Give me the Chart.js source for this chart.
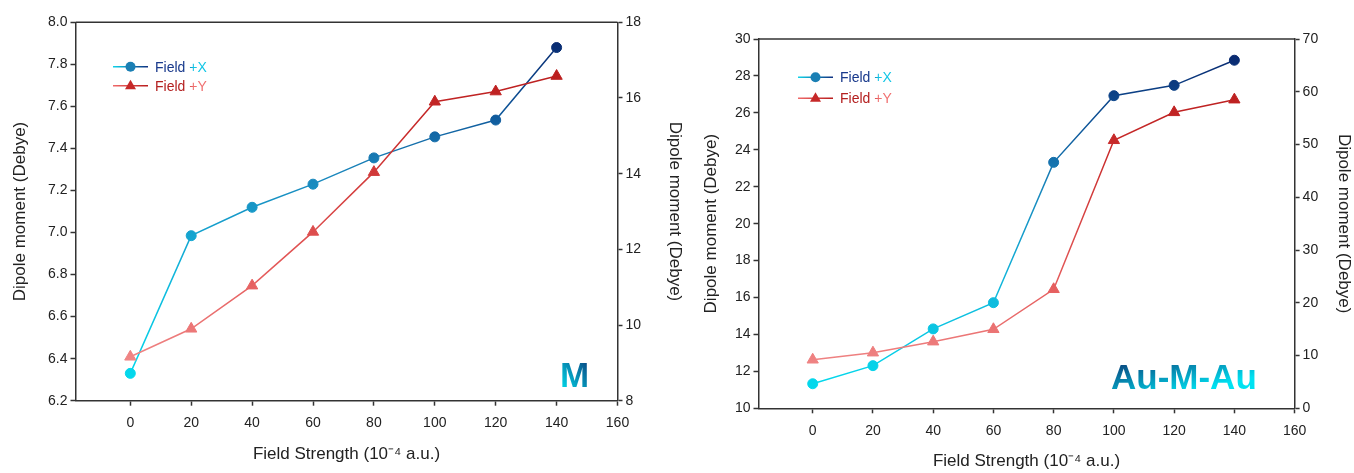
<!DOCTYPE html>
<html>
<head>
<meta charset="utf-8">
<script src="https://cdn.jsdelivr.net/npm/chart.js@4.4.1/dist/chart.umd.min.js"></script>
<style>
  body { margin: 0; background: #fff; }
  #wrap { position: relative; width: 1354px; height: 473px; overflow: hidden; }
  canvas { position: absolute; top: 0; }
  .tag {
    position: absolute; font-family: "Liberation Sans", Arial, sans-serif; font-weight: bold;
    font-size: 35px; line-height: 1; white-space: nowrap;
    -webkit-background-clip: text; background-clip: text; color: transparent;
  }
</style>
</head>
<body>
<div id="wrap">
  <canvas id="chart-m" width="690" height="473" style="left:0"></canvas>
  <canvas id="chart-au" width="664" height="473" style="left:690px"></canvas>
  <div class="tag" style="left:560px; top:357px; background-image: linear-gradient(to top right, #00e6f2, #0a3a7a);">M</div>
  <div class="tag" style="left:1111px; top:359px; background-image: linear-gradient(to bottom right, #0a4880 10%, #00e2f2 75%);">Au-M-Au</div>
</div>
<script>
// field strength in 10^-4 a.u.
const fieldStrength = [0, 20, 40, 60, 80, 100, 120, 140];

// M: +X on left axis, +Y on right axis
const mFieldX = [6.33, 6.985, 7.12, 7.23, 7.355, 7.455, 7.535, 7.88];
const mFieldY = [9.16, 9.90, 11.04, 12.46, 14.04, 15.90, 16.17, 16.58];

// Au-M-Au
const auFieldX = [11.33, 12.31, 14.30, 15.72, 23.32, 26.93, 27.49, 28.85];
const auFieldY = [9.2, 10.54, 12.63, 14.98, 22.56, 50.8, 56.1, 58.5];

const xTicks = [0, 20, 40, 60, 80, 100, 120, 140, 160];
const mLeftTicks = [6.2, 6.4, 6.6, 6.8, 7.0, 7.2, 7.4, 7.6, 7.8, 8.0];
const mRightTicks = [8, 10, 12, 14, 16, 18];
const auLeftTicks = [10, 12, 14, 16, 18, 20, 22, 24, 26, 28, 30];
const auRightTicks = [0, 10, 20, 30, 40, 50, 60, 70];

const FONT = '"Liberation Sans", Arial, sans-serif';
const blueStops = [[0, '#00e0f0'], [0.35, '#12b4da'], [0.6, '#1a86bc'], [0.78, '#0e5296'], [1, '#081f66']];
const redStops = [[0, '#f59a9a'], [0.35, '#e45a5a'], [0.7, '#c92c2c'], [1, '#b01414']];

function vGrad(stops) {
  return (ctx) => {
    const area = ctx.chart.chartArea;
    if (!area) return stops[0][1];
    const g = ctx.chart.ctx.createLinearGradient(0, area.bottom, 0, area.top);
    stops.forEach(s => g.addColorStop(s[0], s[1]));
    return g;
  };
}

function series(label, values, axis, stops, style, order) {
  return {
    label: label,
    data: fieldStrength.map((x, i) => ({ x: x, y: values[i] })),
    yAxisID: axis,
    borderColor: vGrad(stops),
    backgroundColor: vGrad(stops),
    pointBackgroundColor: vGrad(stops),
    pointBorderColor: vGrad(stops),
    borderWidth: 1.5,
    pointStyle: style,
    pointRadius: style === 'circle' ? 5 : 6.5,
    pointBorderWidth: 1,
    tension: 0,
    order: order,
  };
}

function yAxis(pos, min, max, ticks, width, pad, fmt) {
  return {
    type: 'linear', position: pos, min: min, max: max,
    afterFit: s => { s.width = width; },
    afterBuildTicks: s => { s.ticks = ticks.map(v => ({ value: v })); },
    grid: { drawOnChartArea: false, drawTicks: true, tickLength: 5, tickWidth: 1.5, tickColor: '#333' },
    border: { display: true, color: '#333', width: 1.5 },
    ticks: { color: '#222', font: { family: FONT, size: 14 }, padding: 3, callback: fmt },
    title: { display: true, text: 'Dipole moment (Debye)', color: '#222', font: { family: FONT, size: 17 }, padding: { top: pad, bottom: 0 } },
  };
}

function xAxis(height, pad) {
  return {
    type: 'linear', min: -18, max: 160,
    afterFit: s => { s.height = height; },
    afterBuildTicks: s => { s.ticks = xTicks.map(v => ({ value: v })); },
    grid: { drawOnChartArea: false, drawTicks: true, tickLength: 5, tickWidth: 1.5, tickColor: '#333' },
    border: { display: true, color: '#333', width: 1.5 },
    ticks: { color: '#222', font: { family: FONT, size: 14 }, padding: 9, maxRotation: 0 },
    title: { display: true, text: 'Field Strength (10\u207B\u2074 a.u.)', color: '#222', font: { family: FONT, size: 17 }, padding: { top: 0, bottom: pad } },
  };
}

// top frame line + in-plot legend
const decor = {
  id: 'decor',
  afterDraw(chart, args, opts) {
    const ctx = chart.ctx;
    const a = chart.chartArea;
    ctx.save();
    ctx.strokeStyle = '#333';
    ctx.lineWidth = 1.5;
    ctx.beginPath();
    ctx.moveTo(a.left, a.top);
    ctx.lineTo(a.right, a.top);
    ctx.stroke();

    const x1 = opts.x, x2 = opts.x + 35, mid = opts.x + 17.5;
    const rows = [
      { y: opts.y1, c1: '#10d4ea', c2: '#102f80', mk: '#1a7fb4', t1: '#1a3a8c', t2: '#12c6e6', text: 'Field +X', tri: false },
      { y: opts.y2, c1: '#f06a6a', c2: '#b81c1c', mk: '#c62828', t1: '#b42020', t2: '#f07070', text: 'Field +Y', tri: true },
    ];
    rows.forEach(r => {
      const lg = ctx.createLinearGradient(x1, 0, x2, 0);
      lg.addColorStop(0, r.c1);
      lg.addColorStop(1, r.c2);
      ctx.strokeStyle = lg;
      ctx.lineWidth = 1.5;
      ctx.beginPath();
      ctx.moveTo(x1, r.y);
      ctx.lineTo(x2, r.y);
      ctx.stroke();
      ctx.fillStyle = r.mk;
      ctx.beginPath();
      if (r.tri) {
        ctx.moveTo(mid, r.y - 6);
        ctx.lineTo(mid + 5.5, r.y + 3.5);
        ctx.lineTo(mid - 5.5, r.y + 3.5);
        ctx.closePath();
      } else {
        ctx.arc(mid, r.y, 5, 0, Math.PI * 2);
      }
      ctx.fill();
      ctx.font = '14px ' + FONT;
      ctx.textBaseline = 'middle';
      const tx = x2 + 7;
      const w = ctx.measureText(r.text).width;
      const tg = ctx.createLinearGradient(tx, 0, tx + w, 0);
      tg.addColorStop(0, r.t1);
      tg.addColorStop(0.55, r.t1);
      tg.addColorStop(0.75, r.t2);
      tg.addColorStop(1, r.t2);
      ctx.fillStyle = tg;
      ctx.fillText(r.text, tx, r.y + 1);
    });
    ctx.restore();
  }
};

function makeChart(id, dsX, dsY, scales, padTop, legend) {
  return new Chart(document.getElementById(id).getContext('2d'), {
    type: 'line',
    data: {
      datasets: [
        series('Field +X', dsX, 'y', blueStops, 'circle', 1),
        series('Field +Y', dsY, 'y2', redStops, 'triangle', 0),
      ]
    },
    options: {
      responsive: false,
      animation: false,
      devicePixelRatio: 1,
      layout: { padding: { left: 0, right: 0, top: padTop, bottom: 0 } },
      plugins: { legend: { display: false }, tooltip: { enabled: false }, decor: legend },
      scales: scales,
    },
    plugins: [decor],
  });
}

makeChart('chart-m', mFieldX, mFieldY, {
  x: xAxis(72.3, 8),
  y: yAxis('left', 6.2, 8.0, mLeftTicks, 75.5, 10, v => v.toFixed(1)),
  y2: yAxis('right', 8, 18, mRightTicks, 72.5, 5, v => String(v)),
}, 22.3, { x: 113, y1: 66.7, y2: 85.7 });

makeChart('chart-au', auFieldX, auFieldY, {
  x: xAxis(64.7, 1),
  y: yAxis('left', 10, 30, auLeftTicks, 68.5, 11, v => String(v)),
  y2: yAxis('right', 0, 70, auRightTicks, 59.4, 0, v => String(v)),
}, 39, { x: 108, y1: 77.3, y2: 98.3 });
</script>
</body>
</html>
